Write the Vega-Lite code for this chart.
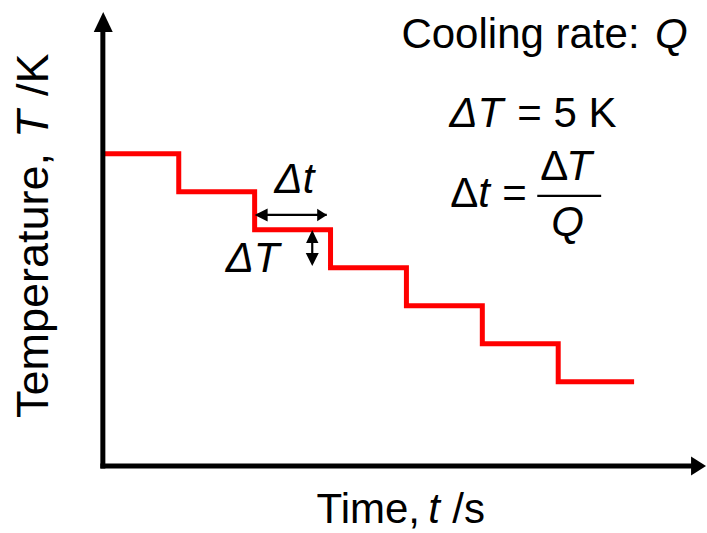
{
  "$schema": "https://vega.github.io/schema/vega-lite/v6.json",
  "width": 707,
  "height": 533,
  "padding": 0,
  "autosize": {"type": "fit", "contains": "padding"},
  "background": "white",
  "config": {"view": {"stroke": null}},
  "datasets": {
    "steps": [
      {"t": 0, "T": 41.1}, {"t": 1, "T": 36.1}, {"t": 2, "T": 31.1}, {"t": 3, "T": 26.1},
      {"t": 4, "T": 21.1}, {"t": 5, "T": 16.1}, {"t": 6, "T": 11.1}, {"t": 7, "T": 11.1}
    ],
    "axisLines": [
      {"t": 0, "t2": 0, "T": -0.33, "T2": 57.3},
      {"t": -0.033, "t2": 7.76, "T": 0, "T2": 0}
    ],
    "noteLines": [
      {"t": 2.03, "t2": 2.95, "T": 33.03, "T2": 33.03},
      {"t": 2.759, "t2": 2.759, "T": 30.6, "T2": 26.7},
      {"t": 5.724, "t2": 6.566, "T": 35.53, "T2": 35.53}
    ],
    "heads": [
      {"t": 0.005, "T": 58.42, "dir": "up", "kind": "axis"},
      {"t": 7.849, "T": 0, "dir": "right", "kind": "axis"},
      {"t": 2.0855, "T": 33.03, "dir": "left", "kind": "note"},
      {"t": 2.888, "T": 33.03, "dir": "right", "kind": "note"},
      {"t": 2.759, "T": 30.2, "dir": "up", "kind": "note"},
      {"t": 2.759, "T": 27.17, "dir": "down", "kind": "note"}
    ],
    "uprightText": [
      {"t": 3.934, "T": 55.0, "label": "Cooling rate:"},
      {"t": 5.461, "T": 44.61, "label": "= 5 K"},
      {"t": 4.579, "T": 34.08, "label": "Δ"},
      {"t": 5.263, "T": 34.08, "label": "="},
      {"t": 5.763, "T": 37.63, "label": "Δ"},
      {"t": 2.816, "T": -7.5, "label": "Time,"},
      {"t": 4.605, "T": -7.5, "label": "/s"}
    ],
    "italicText": [
      {"t": 7.276, "T": 55.0, "label": "Q"},
      {"t": 4.566, "T": 44.61, "label": "ΔT"},
      {"t": 4.947, "T": 34.08, "label": "t"},
      {"t": 6.105, "T": 37.63, "label": "T"},
      {"t": 5.908, "T": 30.26, "label": "Q"},
      {"t": 2.263, "T": 35.92, "label": "Δt"},
      {"t": 1.618, "T": 25.53, "label": "ΔT"},
      {"t": 4.289, "T": -7.5, "label": "t"}
    ],
    "yTitleUpright": [
      {"t": -0.7237, "T": 6.316, "label": "Temperature,"},
      {"t": -0.7237, "T": 48.68, "label": "/K"}
    ],
    "yTitleItalic": [
      {"t": -0.7237, "T": 43.16, "label": "T"}
    ]
  },
  "encoding": {
    "x": {"field": "t", "type": "quantitative", "axis": null,
          "scale": {"domain": [-1.35526, 7.94737], "nice": false, "zero": false}},
    "y": {"field": "T", "type": "quantitative", "axis": null,
          "scale": {"domain": [-8.8158, 61.3158], "nice": false, "zero": false}}
  },
  "layer": [
    {
      "data": {"name": "steps"},
      "mark": {"type": "line", "interpolate": "step-after", "color": "#FF0000",
               "strokeWidth": 5, "strokeJoin": "miter", "strokeCap": "butt"}
    },
    {
      "data": {"name": "axisLines"},
      "mark": {"type": "rule", "color": "#000000", "strokeWidth": 5, "strokeCap": "butt"},
      "encoding": {
        "x2": {"field": "t2"},
        "y2": {"field": "T2"}
      }
    },
    {
      "data": {"name": "noteLines"},
      "mark": {"type": "rule", "color": "#000000", "strokeWidth": 2.2, "strokeCap": "butt"},
      "encoding": {
        "x2": {"field": "t2"},
        "y2": {"field": "T2"}
      }
    },
    {
      "data": {"name": "heads"},
      "mark": {"type": "point", "filled": true, "color": "#000000", "opacity": 1, "strokeWidth": 0},
      "encoding": {
        "shape": {"field": "dir", "type": "nominal", "legend": null,
                  "scale": {"domain": ["up", "down", "left", "right"],
                            "range": ["M0,-1L-0.95,1L0.95,1Z", "M0,1L-1,-1L1,-1Z",
                                      "M-1,0L1,-1L1,1Z", "M0.75,0L-0.75,-0.96L-0.75,0.96Z"]}},
        "size": {"field": "kind", "type": "nominal", "legend": null,
                 "scale": {"domain": ["axis", "note"], "range": [400, 169]}}
      }
    },
    {
      "data": {"name": "uprightText"},
      "mark": {"type": "text", "align": "left", "baseline": "alphabetic",
               "font": "Liberation Sans", "fontSize": 42, "color": "#000000"},
      "encoding": {"text": {"field": "label"}}
    },
    {
      "data": {"name": "italicText"},
      "mark": {"type": "text", "align": "left", "baseline": "alphabetic",
               "font": "Liberation Sans", "fontStyle": "italic", "fontSize": 42, "color": "#000000"},
      "encoding": {"text": {"field": "label"}}
    },
    {
      "data": {"name": "yTitleUpright"},
      "mark": {"type": "text", "align": "left", "baseline": "alphabetic", "angle": 270,
               "font": "Liberation Sans", "fontSize": 45, "color": "#000000"},
      "encoding": {"text": {"field": "label"}}
    },
    {
      "data": {"name": "yTitleItalic"},
      "mark": {"type": "text", "align": "left", "baseline": "alphabetic", "angle": 270,
               "font": "Liberation Sans", "fontStyle": "italic", "fontSize": 45, "color": "#000000"},
      "encoding": {"text": {"field": "label"}}
    }
  ]
}
